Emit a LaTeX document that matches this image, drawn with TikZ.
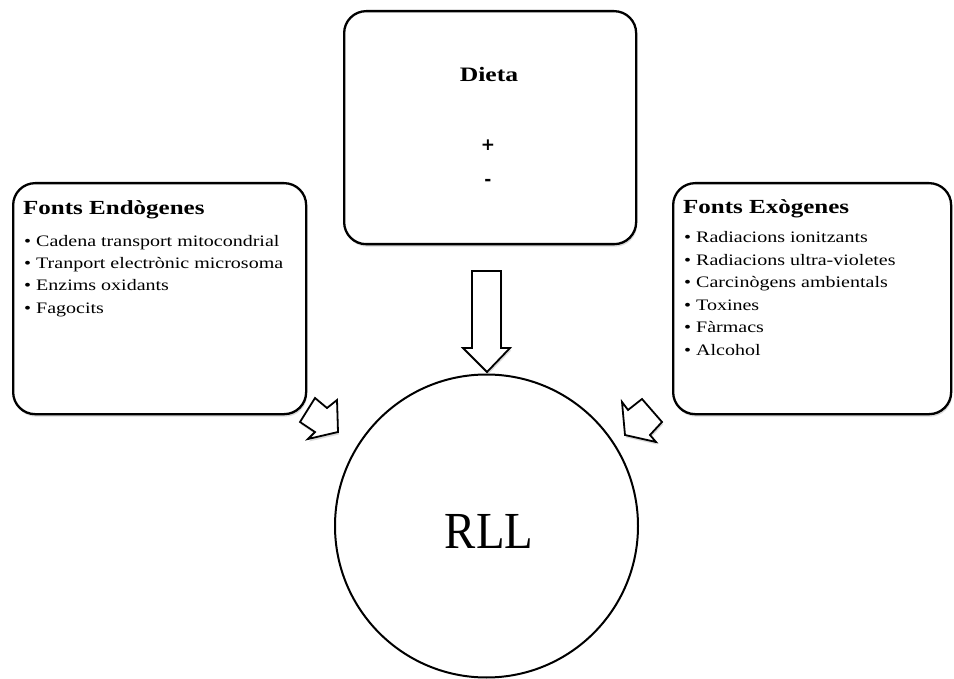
\documentclass[tikz,border=0pt]{standalone}
\usepackage{fontspec}
\setmainfont{Liberation Serif}[FakeStretch=1.25]
\newfontfamily\rllfont{Liberation Serif}[FakeStretch=0.9]
\newfontfamily\signfont{DejaVu Sans}
\usetikzlibrary{shadows}
\begin{document}
\begin{tikzpicture}[x=1pt,y=-1pt,
  shad/.style={drop shadow={shadow xshift=1pt,shadow yshift=-2.5pt,opacity=0.25,fill=black!60}},
  box/.style={draw,line width=2.3pt,rounded corners=22pt,fill=white,shad,anchor=north west,inner sep=0pt},
  blockarrow/.style={draw,line width=1.8pt,line join=miter,fill=white,shad},
  title/.style={font=\fontsize{20}{24}\selectfont\bfseries,anchor=base west,inner sep=0pt},
  item/.style={font=\fontsize{16}{19}\selectfont,anchor=base west,inner sep=0pt},
  sign/.style={font=\signfont\fontsize{17}{20}\selectfont\bfseries,inner sep=0pt}]
\useasboundingbox (0,0) rectangle (954,679);

% boxes
\node[box,minimum width=292pt,minimum height=233pt] (diet) at (343,10) {};
\node[box,minimum width=293pt,minimum height=231pt] (endo) at (12,182) {};
\node[box,minimum width=278pt,minimum height=231pt] (exo) at (672,182) {};

% circle
\node[draw,circle,line width=2pt,fill=white,minimum size=303pt,inner sep=0pt] (rll) at (486.5,526) {};
\node[font=\rllfont\fontsize{52}{56}\selectfont,anchor=base,inner sep=0pt] (rlltxt) at (489,548) {RLL};

% diet text
\node[font=\fontsize{20.5}{24}\selectfont\bfseries,anchor=base,inner sep=0pt] (dieta) at (489,82) {Dieta};
\node[sign] (plus) at (488,145) {+};
\node[sign] (minus) at (488,182) {-};

% endogenous text
\node[title] (endot) at (23,215) {Fonts Endògenes};
\node[item] (e1) at (24,247) {• Cadena transport mitocondrial};
\node[item] (e2) at (24,269) {• Tranport electrònic microsoma};
\node[item] (e3) at (24,291) {• Enzims oxidants};
\node[item] (e4) at (24,313) {• Fagocits};

% exogenous text
\node[title] (exot) at (683,214) {Fonts Exògenes};
\node[item] (x1) at (684,243) {• Radiacions ionitzants};
\node[item] (x2) at (684,265.5) {• Radiacions ultra-violetes};
\node[item] (x3) at (684,288) {• Carcinògens ambientals};
\node[item] (x4) at (684,310.5) {• Toxines};
\node[item] (x5) at (684,333) {• Fàrmacs};
\node[item] (x6) at (684,355.5) {• Alcohol};

% block arrows
\draw[blockarrow] (472,271) -- (501,271) -- (501,348) -- (510,348) -- (487,372)
  -- (463,348) -- (472,348) -- cycle;
\draw[blockarrow] (315,398) -- (327,408) -- (337,400) -- (338,432) -- (308,439)
  -- (315,432) -- (300,422) -- cycle;
\draw[blockarrow] (642,399) -- (628,410) -- (622,402) -- (625,435) -- (656,442)
  -- (650,435) -- (662,422) -- cycle;
\end{tikzpicture}
\end{document}
